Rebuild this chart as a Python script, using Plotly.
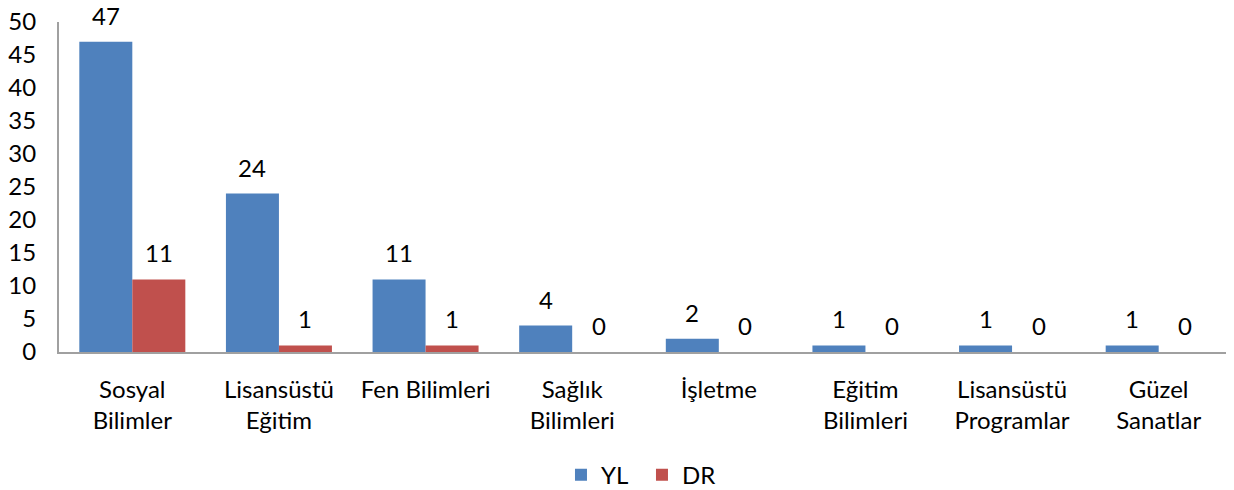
import plotly.graph_objects as go

categories = ["Sosyal<br>Bilimler", "Lisansüstü<br>Eğitim", "Fen Bilimleri", "Sağlık<br>Bilimleri",
              "İşletme", "Eğitim<br>Bilimleri", "Lisansüstü<br>Programlar", "Güzel<br>Sanatlar"]
yl_values = [47, 24, 11, 4, 2, 1, 1, 1]
dr_values = [11, 1, 1, 0, 0, 0, 0, 0]

FONT = "Lato"
FS = 24
fig = go.Figure()
fig.add_trace(go.Bar(name="YL", x=categories, y=yl_values, marker_color="#4F81BD",
                     marker_line_width=0, offsetgroup="a"))
fig.add_trace(go.Bar(name="DR", x=categories, y=dr_values, marker_color="#C0504D",
                     marker_line_width=0, offsetgroup="b"))

for i, c in enumerate(categories):
    for val, shift in ((yl_values[i], -26.5), (dr_values[i], 26.5)):
        fig.add_annotation(x=c, y=val, text=str(val), showarrow=False, xshift=shift,
                           yanchor="bottom", yshift=10, font=dict(size=FS, color="#000", family=FONT))

fig.update_layout(
    width=1226, height=482,
    margin=dict(l=51, r=2, t=14, b=138, autoexpand=False),
    plot_bgcolor="white", paper_bgcolor="white",
    barmode="group", bargap=0.277, bargroupgap=0,
    font=dict(family=FONT, size=FS, color="#000"),
    showlegend=True,
    legend=dict(orientation="h", x=0.497, xanchor="center", y=-0.373, yanchor="middle",
                font=dict(size=FS), traceorder="normal", entrywidth=36, entrywidthmode="pixels"),
    xaxis=dict(showline=True, linecolor="#A0A0A0", linewidth=2, ticks="", showgrid=False,
               automargin=False, ticklabelstandoff=15, tickfont=dict(size=FS)),
    yaxis=dict(range=[0, 50], dtick=5, showline=True, linecolor="#A0A0A0", linewidth=2,
               showgrid=False, ticks="", zeroline=False, automargin=False,
               ticklabeloverflow="allow",
               ticklabelstandoff=16, tickfont=dict(size=FS)),
)
fig.write_html("out.html")
